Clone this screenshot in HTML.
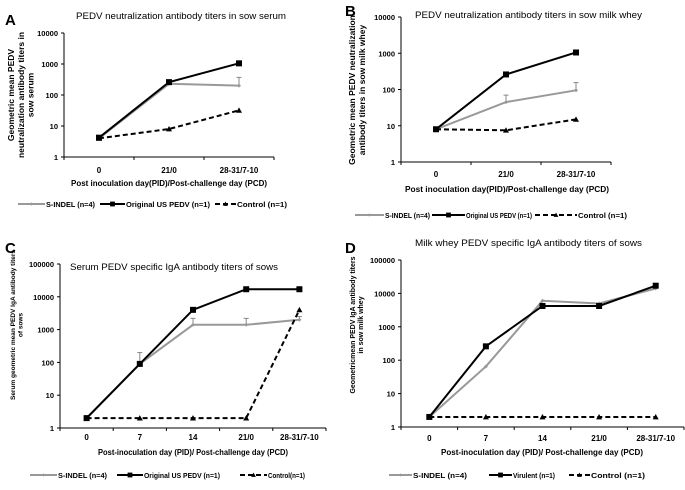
<!DOCTYPE html>
<html><head><meta charset="utf-8"><style>
html,body{margin:0;padding:0;background:#fff}
svg{display:block;font-family:"Liberation Sans",Arial,sans-serif}
</style></head><body>
<svg id="fig" width="685" height="490" viewBox="0 0 685 490" xmlns="http://www.w3.org/2000/svg"></svg>
<script>
// Panel A data
const catsA = ["0","21/0","28-31/7-10"];
const sindelA = [4, 230, 200];
const sindelErrA = [null, 300, 370];
const origA = [4.2, 260, 1050];
const ctrlA = [4, 8, 32];
// Panel B data
const catsB = ["0","21/0","28-31/7-10"];
const sindelB = [8, 45, 95];
const sindelErrB = [null, 70, 155];
const origB = [8, 260, 1050];
const ctrlB = [8, 7.5, 15];
// Panel C data
const catsC = ["0","7","14","21/0","28-31/7-10"];
const sindelC = [2, 90, 1400, 1400, 2000];
const sindelErrC = [null, 200, 2200, 2200, 2500];
const origC = [2, 90, 4000, 17000, 17000];
const ctrlC = [2, 2, 2, 2, 4000];
// Panel D data
const catsD = ["0","7","14","21/0","28-31/7-10"];
const sindelD = [2, 65, 6000, 5000, 14000];
const virD = [2, 260, 4200, 4200, 17000];
const ctrlD = [2, 2, 2, 2, 2];
const ticks4 = ["1","10","100","1000","10000"];
const ticks5 = ["1","10","100","1000","10000","100000"];

const NS="http://www.w3.org/2000/svg";
const svg=document.getElementById('fig');
function mk(tag,attrs,parent){const e=document.createElementNS(NS,tag);for(const k in attrs)e.setAttribute(k,attrs[k]);(parent||svg).appendChild(e);return e;}
function txt(s,attrs,parent){const e=mk('text',attrs,parent);e.textContent=s;return e;}

function panel(p){
  const g=mk('g',{});
  
  
  const dec=p.ticks.length-1;
  const ys=v=>p.y1-(Math.log10(v))/dec*(p.y1-p.y0);
  const cw=(p.x1-p.x0)/p.cats.length;
  const xs=i=>p.x0+cw*(i+0.5);
  const L=txt(p.letter,{x:p.lx,y:p.ly,'font-size':15,'font-weight':'bold'},g);
  
  const T=txt(p.title,{x:p.tx,y:p.ty,'font-size':9,textLength:p.tw,lengthAdjust:'spacingAndGlyphs'},g);
  
  const ya=mk('line',{x1:p.x0,y1:p.y0,x2:p.x0,y2:p.y1,stroke:'#000','stroke-width':1},g);
  
  const xa=mk('line',{x1:p.x0,y1:p.y1,x2:p.x1,y2:p.y1,stroke:'#000','stroke-width':1},g);
  
  p.ticks.forEach((t,i)=>{
    const y=ys(Math.pow(10,i));
    mk('line',{x1:p.x0-3,y1:y,x2:p.x0,y2:y,stroke:'#000'},g);
    const e=txt(t,{x:p.x0-6,y:y+3,'font-size':7.5,'text-anchor':'end','font-weight':'bold'},g);
    
  });
  for(let i=0;i<=p.cats.length;i++){const x=p.x0+cw*i;mk('line',{x1:x,y1:p.y1,x2:x,y2:p.y1+3,stroke:'#000'},g);}
  p.cats.forEach((c,i)=>{
    const e=txt(c,{x:xs(i),y:p.xly,'font-size':8,'text-anchor':'middle','font-weight':'bold'},g);
    
  });
  const xt=txt(p.xtitle,{x:p.xtx0,y:p.xty,'font-size':8,'font-weight':'bold',textLength:p.xtw,lengthAdjust:'spacingAndGlyphs'},g);
  
  const yt=mk('text',{transform:`translate(${p.ytx},${p.yty}) rotate(-90)`,'font-size':p.ytfs,'font-weight':'bold','text-anchor':'middle'},g);
  
  p.ytitle.forEach((l,i)=>{const s=mk('tspan',{x:0,dy:i?p.ytfs*1.15:0},yt);s.textContent=l;});
  p.series.forEach(s=>{
    const sg=mk('g',{},g);
    
    if(s.err){s.err.forEach((e,i)=>{if(e==null)return;const x=xs(i);
      mk('line',{x1:x,y1:ys(s.vals[i]),x2:x,y2:ys(e),stroke:'#888','stroke-width':1},sg);
      mk('line',{x1:x-2.5,y1:ys(e),x2:x+2.5,y2:ys(e),stroke:'#888','stroke-width':1},sg);});}
    const pts=s.vals.map((v,i)=>xs(i)+','+ys(v)).join(' ');
    mk('polyline',{points:pts,fill:'none',stroke:s.color,'stroke-width':s.w,'stroke-dasharray':s.dash||''},sg);
    s.vals.forEach((v,i)=>marker(s.marker,xs(i),ys(v),s.color,sg));
  });
  p.legend.forEach((l,i)=>{
    const lg=mk('g',{},g);
    
    const s=p.series[i];
    mk('line',{x1:l[0],y1:p.legy,x2:l[1],y2:p.legy,stroke:s.color,'stroke-width':s.w,'stroke-dasharray':s.dash||''},lg);
    marker(s.marker,(l[0]+l[1])/2,p.legy,s.color,lg,0.8);
    txt(l[3],{x:l[1]+1,y:p.legy+3,'font-size':7.5,'font-weight':'bold',textLength:l[2]-l[1]-1,lengthAdjust:'spacingAndGlyphs'},lg);
  });
}
function marker(t,x,y,c,g,sc){sc=sc||1;
  if(t==='sq'){const r=3*sc;mk('rect',{x:x-r,y:y-r,width:2*r,height:2*r,fill:c},g);}
  else if(t==='tri'){const r=3*sc;mk('polygon',{points:`${x},${y-r} ${x+r},${y+r*0.8} ${x-r},${y+r*0.8}`,fill:c},g);}
  else {const r=2*sc;mk('polygon',{points:`${x},${y-r} ${x+r},${y} ${x},${y+r} ${x-r},${y}`,fill:c},g);}
}
const GR='#999';
const xtit1="Post inoculation  day(PID)/Post-challenge  day (PCD)";
const xtit2="Post-inoculation day (PID)/ Post-challenge day (PCD)";
panel({name:'panel-a',letter:'A',lx:5,ly:25,title:'PEDV neutralization antibody titers in sow serum',tx:76,tw:210,ty:19,
  x0:64,x1:274,y0:33,y1:157,ticks:ticks4,cats:catsA,xly:173,xtitle:xtit1,xtx0:71,xtw:196,xty:186,
  ytitle:['Geometric mean PEDV','neutralization  antibody titers  in','sow  serum'],ytx:14,yty:95,ytfs:8.5,
  series:[{name:'series-s-indel',vals:sindelA,err:sindelErrA,color:GR,w:2,marker:'dia'},
          {name:'series-original-us-pedv',vals:origA,color:'#000',w:2,marker:'sq'},
          {name:'series-control',vals:ctrlA,color:'#000',w:2,dash:'5,3',marker:'tri'}],
  legy:204,legend:[[18,45,95,'S-INDEL (n=4)'],[100,125,210,'Original US PEDV (n=1)'],[215,236,287,'Control (n=1)']]});
panel({name:'panel-b',letter:'B',lx:345,ly:16,title:'PEDV neutralization antibody titers in sow milk whey',tx:415,tw:227,ty:18,
  x0:401,x1:611,y0:17,y1:162,ticks:ticks4,cats:catsB,xly:177,xtitle:xtit1,xtx0:405,xtw:204,xty:192,
  ytitle:['Geometric mean PEDV neutralization','antibody  titers in sow milk whey'],ytx:355,yty:90,ytfs:8.5,
  series:[{name:'series-s-indel',vals:sindelB,err:sindelErrB,color:GR,w:2,marker:'dia'},
          {name:'series-original-us-pedv',vals:origB,color:'#000',w:2,marker:'sq'},
          {name:'series-control',vals:ctrlB,color:'#000',w:2,dash:'5,3',marker:'tri'}],
  legy:215,legend:[[355,384,430,'S-INDEL (n=4)'],[432,465,532,'Original US PEDV (n=1)'],[535,577,627,'Control (n=1)']]});
panel({name:'panel-c',letter:'C',lx:5,ly:253,title:'Serum PEDV specific IgA  antibody titers of sows',tx:70,tw:208,ty:270,
  x0:60,x1:326,y0:264,y1:428,ticks:ticks5,cats:catsC,xly:440,xtitle:xtit2,xtx0:98,xtw:190,xty:455,
  ytitle:['Serum geometric mean PEDV IgA antibody titers','of sows'],ytx:15,yty:325,ytfs:6.5,
  series:[{name:'series-s-indel',vals:sindelC,err:sindelErrC,color:GR,w:2,marker:'dia'},
          {name:'series-original-us-pedv',vals:origC,color:'#000',w:2,marker:'sq'},
          {name:'series-control',vals:ctrlC,color:'#000',w:2,dash:'5,3',marker:'tri'}],
  legy:475,legend:[[30,57,107,'S-INDEL (n=4)'],[117,143,220,'Original US PEDV (n=1)'],[240,267,305,'Control(n=1)']]});
panel({name:'panel-d',letter:'D',lx:345,ly:253,title:'Milk whey PEDV specific IgA  antibody titers of sows',tx:415,tw:227,ty:246,
  x0:401,x1:684,y0:260,y1:427,ticks:ticks5,cats:catsD,xly:441,xtitle:xtit2,xtx0:441,xtw:202,xty:455,
  ytitle:['Geometricmean PEDV IgA antibody titers','in sow milk whey'],ytx:355,yty:325,ytfs:7,
  series:[{name:'series-s-indel',vals:sindelD,color:GR,w:2,marker:'dia'},
          {name:'series-virulent',vals:virD,color:'#000',w:2,marker:'sq'},
          {name:'series-control',vals:ctrlD,color:'#000',w:2,dash:'5,3',marker:'tri'}],
  legy:475,legend:[[389,412,467,'S-INDEL (n=4)'],[489,512,555,'Virulent (n=1)'],[569,590,645,'Control (n=1)']]});
</script>
</body></html>
